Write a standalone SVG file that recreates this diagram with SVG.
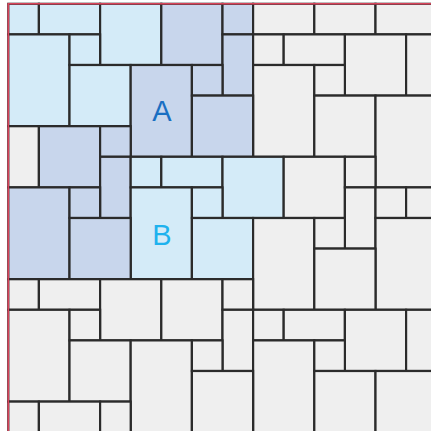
<svg xmlns="http://www.w3.org/2000/svg" width="431" height="431" viewBox="0 0 431 431">
<style>
rect{stroke:#2B2B2B;stroke-width:2.2}
.L{fill:#D4EBF8}.D{fill:#C8D6EC}.G{fill:#EFEFEF}
.t{font-family:"Liberation Sans",Arial,sans-serif;font-size:29px;text-anchor:middle}
.edge{stroke:#D9435A;stroke-width:1.6;fill:none}
</style>
<rect x="0" y="0" width="431" height="431" style="fill:#fff;stroke:none"/>
<g id="n1"><rect class="L" x="8.3" y="3.8" width="30.6" height="30.6"/></g>
<g id="n2"><rect class="L" x="38.9" y="3.8" width="61.2" height="30.6"/></g>
<g id="n3"><rect class="L" x="100.1" y="3.8" width="61.2" height="61.2"/></g>
<g id="n4"><rect class="D" x="161.3" y="3.8" width="61.2" height="61.2"/></g>
<g id="n5"><rect class="D" x="222.5" y="3.8" width="30.6" height="30.6"/></g>
<g id="n6"><rect class="G" x="253.1" y="3.8" width="61.2" height="30.6"/></g>
<g id="n7"><rect class="G" x="314.3" y="3.8" width="61.2" height="30.6"/></g>
<g id="n8"><rect class="G" x="375.5" y="3.8" width="61.2" height="30.6"/></g>
<g id="n9"><rect class="L" x="8.3" y="34.4" width="61.2" height="91.8"/></g>
<g id="n10"><rect class="L" x="69.5" y="34.4" width="30.6" height="30.6"/></g>
<g id="n11"><rect class="D" x="222.5" y="34.4" width="30.6" height="61.2"/></g>
<g id="n12"><rect class="G" x="253.1" y="34.4" width="30.6" height="30.6"/></g>
<g id="n13"><rect class="G" x="283.7" y="34.4" width="61.2" height="30.6"/></g>
<g id="n14"><rect class="G" x="344.9" y="34.4" width="61.2" height="61.2"/></g>
<g id="n15"><rect class="G" x="406.1" y="34.4" width="30.6" height="61.2"/></g>
<g id="n16"><rect class="L" x="69.5" y="65" width="61.2" height="61.2"/></g>
<g id="A"><rect class="D" x="130.7" y="65" width="61.2" height="91.8"/><text class="t" x="161.8" y="121" fill="#1A6FC2">A</text></g>
<g id="n18"><rect class="D" x="191.9" y="65" width="30.6" height="30.6"/></g>
<g id="n19"><rect class="G" x="253.1" y="65" width="61.2" height="91.8"/></g>
<g id="n20"><rect class="G" x="314.3" y="65" width="30.6" height="30.6"/></g>
<g id="n21"><rect class="D" x="191.9" y="95.6" width="61.2" height="61.2"/></g>
<g id="n22"><rect class="G" x="314.3" y="95.6" width="61.2" height="61.2"/></g>
<g id="n23"><rect class="G" x="375.5" y="95.6" width="61.2" height="91.8"/></g>
<g id="n24"><rect class="G" x="8.3" y="126.2" width="30.6" height="61.2"/></g>
<g id="n25"><rect class="D" x="38.9" y="126.2" width="61.2" height="61.2"/></g>
<g id="n26"><rect class="D" x="100.1" y="126.2" width="30.6" height="30.6"/></g>
<g id="n27"><rect class="D" x="100.1" y="156.8" width="30.6" height="61.2"/></g>
<g id="n28"><rect class="L" x="130.7" y="156.8" width="30.6" height="30.6"/></g>
<g id="n29"><rect class="L" x="161.3" y="156.8" width="61.2" height="30.6"/></g>
<g id="n30"><rect class="L" x="222.5" y="156.8" width="61.2" height="61.2"/></g>
<g id="n31"><rect class="G" x="283.7" y="156.8" width="61.2" height="61.2"/></g>
<g id="n32"><rect class="G" x="344.9" y="156.8" width="30.6" height="30.6"/></g>
<g id="n33"><rect class="D" x="8.3" y="187.4" width="61.2" height="91.8"/></g>
<g id="n34"><rect class="D" x="69.5" y="187.4" width="30.6" height="30.6"/></g>
<g id="B"><rect class="L" x="130.7" y="187.4" width="61.2" height="91.8"/><text class="t" x="161.8" y="244.5" fill="#1EB2EE">B</text></g>
<g id="n36"><rect class="L" x="191.9" y="187.4" width="30.6" height="30.6"/></g>
<g id="n37"><rect class="G" x="344.9" y="187.4" width="30.6" height="61.2"/></g>
<g id="n38"><rect class="G" x="375.5" y="187.4" width="30.6" height="30.6"/></g>
<g id="n39"><rect class="G" x="406.1" y="187.4" width="30.6" height="30.6"/></g>
<g id="n40"><rect class="D" x="69.5" y="218" width="61.2" height="61.2"/></g>
<g id="n41"><rect class="L" x="191.9" y="218" width="61.2" height="61.2"/></g>
<g id="n42"><rect class="G" x="253.1" y="218" width="61.2" height="91.8"/></g>
<g id="n43"><rect class="G" x="314.3" y="218" width="30.6" height="30.6"/></g>
<g id="n44"><rect class="G" x="375.5" y="218" width="61.2" height="91.8"/></g>
<g id="n45"><rect class="G" x="314.3" y="248.6" width="61.2" height="61.2"/></g>
<g id="n46"><rect class="G" x="8.3" y="279.2" width="30.6" height="30.6"/></g>
<g id="n47"><rect class="G" x="38.9" y="279.2" width="61.2" height="30.6"/></g>
<g id="n48"><rect class="G" x="100.1" y="279.2" width="61.2" height="61.2"/></g>
<g id="n49"><rect class="G" x="161.3" y="279.2" width="61.2" height="61.2"/></g>
<g id="n50"><rect class="G" x="222.5" y="279.2" width="30.6" height="30.6"/></g>
<g id="n51"><rect class="G" x="8.3" y="309.8" width="61.2" height="91.8"/></g>
<g id="n52"><rect class="G" x="69.5" y="309.8" width="30.6" height="30.6"/></g>
<g id="n53"><rect class="G" x="222.5" y="309.8" width="30.6" height="61.2"/></g>
<g id="n54"><rect class="G" x="253.1" y="309.8" width="30.6" height="30.6"/></g>
<g id="n55"><rect class="G" x="283.7" y="309.8" width="61.2" height="30.6"/></g>
<g id="n56"><rect class="G" x="344.9" y="309.8" width="61.2" height="61.2"/></g>
<g id="n57"><rect class="G" x="406.1" y="309.8" width="30.6" height="61.2"/></g>
<g id="n58"><rect class="G" x="69.5" y="340.4" width="61.2" height="61.2"/></g>
<g id="n59"><rect class="G" x="130.7" y="340.4" width="61.2" height="91.8"/></g>
<g id="n60"><rect class="G" x="191.9" y="340.4" width="30.6" height="30.6"/></g>
<g id="n61"><rect class="G" x="253.1" y="340.4" width="61.2" height="91.8"/></g>
<g id="n62"><rect class="G" x="314.3" y="340.4" width="30.6" height="30.6"/></g>
<g id="n63"><rect class="G" x="191.9" y="371" width="61.2" height="61.2"/></g>
<g id="n64"><rect class="G" x="314.3" y="371" width="61.2" height="61.2"/></g>
<g id="n65"><rect class="G" x="375.5" y="371" width="61.2" height="61.2"/></g>
<g id="n66"><rect class="G" x="8.3" y="401.6" width="30.6" height="30.6"/></g>
<g id="n67"><rect class="G" x="38.9" y="401.6" width="61.2" height="30.6"/></g>
<g id="n68"><rect class="G" x="100.1" y="401.6" width="30.6" height="30.6"/></g>
<g id="frame"><path class="edge" d="M8.3 431V3.8H431"/></g>
</svg>
